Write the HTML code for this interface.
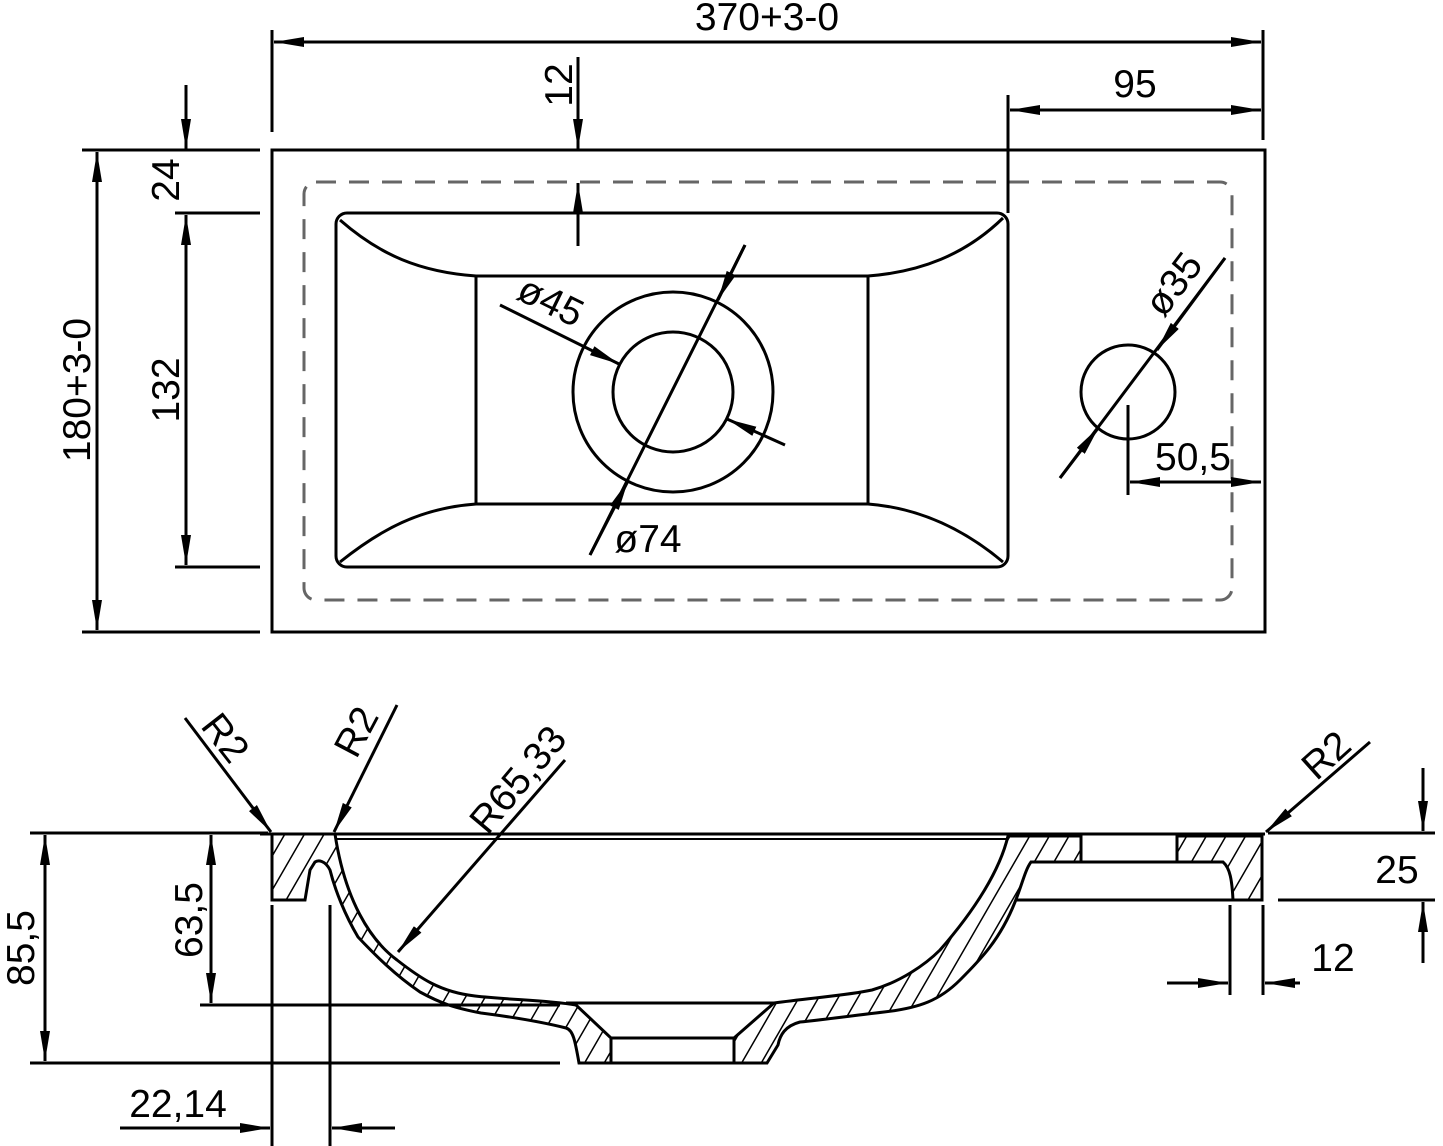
<!DOCTYPE html>
<html><head><meta charset="utf-8"><style>
html,body{margin:0;padding:0;background:#fff}
svg{display:block}
text{font-family:"Liberation Sans",sans-serif;font-size:39px;fill:#000}
</style></head><body>
<svg width="1443" height="1146" viewBox="0 0 1443 1146" xmlns="http://www.w3.org/2000/svg">
<defs>
<marker id="a" viewBox="0 0 30 10" refX="30" refY="5" markerWidth="30" markerHeight="10" markerUnits="userSpaceOnUse" orient="auto-start-reverse">
<path d="M0,0 L30,5 L0,10 Z" fill="#000"/></marker>
<pattern id="h" patternUnits="userSpaceOnUse" width="17" height="17" patternTransform="rotate(30)">
<line x1="0" y1="0" x2="0" y2="17" stroke="#000" stroke-width="3"/></pattern>
</defs>
<g fill="none" stroke="#000" stroke-width="3">
<rect x="272" y="150" width="993" height="482"/>
<rect x="304" y="182" width="928" height="418" rx="12" stroke="#666" stroke-dasharray="20,13"/>
<rect x="336" y="213" width="672" height="354" rx="11"/>
<path d="M340,220 C380,255 420,272 476,276 L868,276 C920,272 965,255 1003,218"/>
<path d="M340,562 C380,530 420,508 476,504 L868,504 C920,508 965,530 1003,562"/>
<line x1="476" y1="276" x2="476" y2="504"/><line x1="868" y1="276" x2="868" y2="504"/>
<circle cx="673" cy="392" r="100"/><circle cx="673" cy="392" r="60"/>
<circle cx="1128" cy="392" r="47"/>
<line x1="272" y1="30" x2="272" y2="132"/><line x1="1263" y1="30" x2="1263" y2="140"/>
<line x1="274" y1="42" x2="1261" y2="42" marker-start="url(#a)" marker-end="url(#a)"/>
<line x1="1008" y1="95" x2="1008" y2="213"/>
<line x1="1010" y1="110" x2="1261" y2="110" marker-start="url(#a)" marker-end="url(#a)"/>
<line x1="578" y1="57" x2="578" y2="149" marker-end="url(#a)"/>
<line x1="578" y1="246" x2="578" y2="183" marker-end="url(#a)"/>
<line x1="82" y1="150" x2="260" y2="150"/><line x1="82" y1="632" x2="260" y2="632"/>
<line x1="175" y1="213" x2="260" y2="213"/><line x1="175" y1="567" x2="260" y2="567"/>
<line x1="97" y1="152" x2="97" y2="630" marker-start="url(#a)" marker-end="url(#a)"/>
<line x1="186" y1="85" x2="186" y2="149" marker-end="url(#a)"/>
<line x1="186" y1="215" x2="186" y2="565" marker-start="url(#a)" marker-end="url(#a)"/>
<line x1="500" y1="305" x2="619" y2="364" marker-end="url(#a)"/>
<line x1="785" y1="445" x2="727" y2="419" marker-end="url(#a)"/>
<line x1="745" y1="245" x2="590" y2="555"/>
<line x1="745" y1="245" x2="718" y2="300" marker-end="url(#a)"/>
<line x1="590" y1="555" x2="628" y2="481" marker-end="url(#a)"/>
<line x1="1225" y1="258" x2="1060" y2="478"/>
<line x1="1225" y1="258" x2="1157" y2="350" marker-end="url(#a)"/>
<line x1="1060" y1="478" x2="1099" y2="427" marker-end="url(#a)"/>
<line x1="1128" y1="405" x2="1128" y2="495"/>
<line x1="1130" y1="482" x2="1261" y2="482" marker-start="url(#a)" marker-end="url(#a)"/>
</g>
<text x="767" y="30" text-anchor="middle">370+3-0</text>
<text x="1135" y="97" text-anchor="middle">95</text>
<text transform="translate(572,85) rotate(-90)" text-anchor="middle">12</text>
<text transform="translate(90,390) rotate(-90)" text-anchor="middle">180+3-0</text>
<text transform="translate(179,180) rotate(-90)" text-anchor="middle">24</text>
<text transform="translate(179,390) rotate(-90)" text-anchor="middle">132</text>
<text transform="translate(545,313) rotate(26)" text-anchor="middle">ø45</text>
<text x="648" y="552" text-anchor="middle">ø74</text>
<text transform="translate(1184,292) rotate(-53)" text-anchor="middle">ø35</text>
<text x="1193" y="470" text-anchor="middle">50,5</text>

<g stroke="#000" stroke-width="3">
<path fill="url(#h)" d="M272,834 L335,834 C345,900 370,940 397,960 C420,978 440,992 475,996 C510,1000 545,1000 576,1005 L611,1038 L611,1063 L579,1063 C575,1040 573,1030 566,1028 C546,1023 520,1018 481,1013 C455,1008 442,1004 420,992 C395,975 375,955 358,937 C345,915 335,890 330,870 C325,860 318,860 315,862 L310,870 L305,900 L272,900 Z"/>
<path fill="url(#h)" d="M734,1038 L774,1003 C810,998 850,995 872,990 C900,982 925,965 940,950 C975,910 1000,870 1008,836 L1081,836 L1081,862 L1031,862 C1025,870 1022,885 1015,902 C1000,940 980,960 960,980 C940,1000 920,1008 884,1012 C850,1016 820,1020 800,1022 C785,1026 780,1035 778,1045 L767,1063 L734,1063 Z"/>
<path fill="url(#h)" d="M1177,836 L1262,836 L1262,900 L1233,900 C1232,880 1230,868 1223,862 L1177,862 Z"/>
</g>
<g fill="none" stroke="#000" stroke-width="3">
<line x1="260" y1="834" x2="1265" y2="834"/>
<line x1="335" y1="839" x2="1008" y2="839" stroke-width="2"/>
<line x1="1081" y1="862" x2="1177" y2="862"/>
<line x1="1015" y1="900" x2="1262" y2="900"/>
<line x1="611" y1="1038" x2="734" y2="1038"/>
<line x1="579" y1="1063" x2="767" y2="1063"/>
<line x1="566" y1="1003" x2="774" y2="1003"/>
<line x1="30" y1="833" x2="268" y2="833"/><line x1="30" y1="1063" x2="560" y2="1063"/>
<line x1="200" y1="1005" x2="560" y2="1005"/>
<line x1="45" y1="835" x2="45" y2="1061" marker-start="url(#a)" marker-end="url(#a)"/>
<line x1="211" y1="835" x2="211" y2="1003" marker-start="url(#a)" marker-end="url(#a)"/>
<line x1="272" y1="905" x2="272" y2="1146"/><line x1="330" y1="905" x2="330" y2="1146"/>
<line x1="120" y1="1128" x2="270" y2="1128" marker-end="url(#a)"/>
<line x1="395" y1="1128" x2="332" y2="1128" marker-end="url(#a)"/>
<line x1="1268" y1="833" x2="1435" y2="833"/><line x1="1278" y1="900" x2="1435" y2="900"/>
<line x1="1423" y1="768" x2="1423" y2="831" marker-end="url(#a)"/>
<line x1="1423" y1="963" x2="1423" y2="902" marker-end="url(#a)"/>
<line x1="1230" y1="905" x2="1230" y2="995"/><line x1="1263" y1="905" x2="1263" y2="995"/>
<line x1="1167" y1="983" x2="1228" y2="983" marker-end="url(#a)"/>
<line x1="1300" y1="983" x2="1265" y2="983" marker-end="url(#a)"/>
<line x1="185" y1="718" x2="271" y2="832" marker-end="url(#a)"/>
<line x1="397" y1="705" x2="334" y2="832" marker-end="url(#a)"/>
<line x1="565" y1="760" x2="398" y2="952" marker-end="url(#a)"/>
<line x1="1370" y1="742" x2="1266" y2="832" marker-end="url(#a)"/>
</g>
<text transform="translate(34,948) rotate(-90)" text-anchor="middle">85,5</text>
<text transform="translate(202,920) rotate(-90)" text-anchor="middle">63,5</text>
<text x="178" y="1117" text-anchor="middle">22,14</text>
<text x="1397" y="883" text-anchor="middle">25</text>
<text x="1333" y="971" text-anchor="middle">12</text>
<text transform="translate(215,746) rotate(52)" text-anchor="middle">R2</text>
<text transform="translate(368,738) rotate(-62)" text-anchor="middle">R2</text>
<text transform="translate(528,788) rotate(-50)" text-anchor="middle">R65,33</text>
<text transform="translate(1335,765) rotate(-42)" text-anchor="middle">R2</text>
</svg>
</body></html>
